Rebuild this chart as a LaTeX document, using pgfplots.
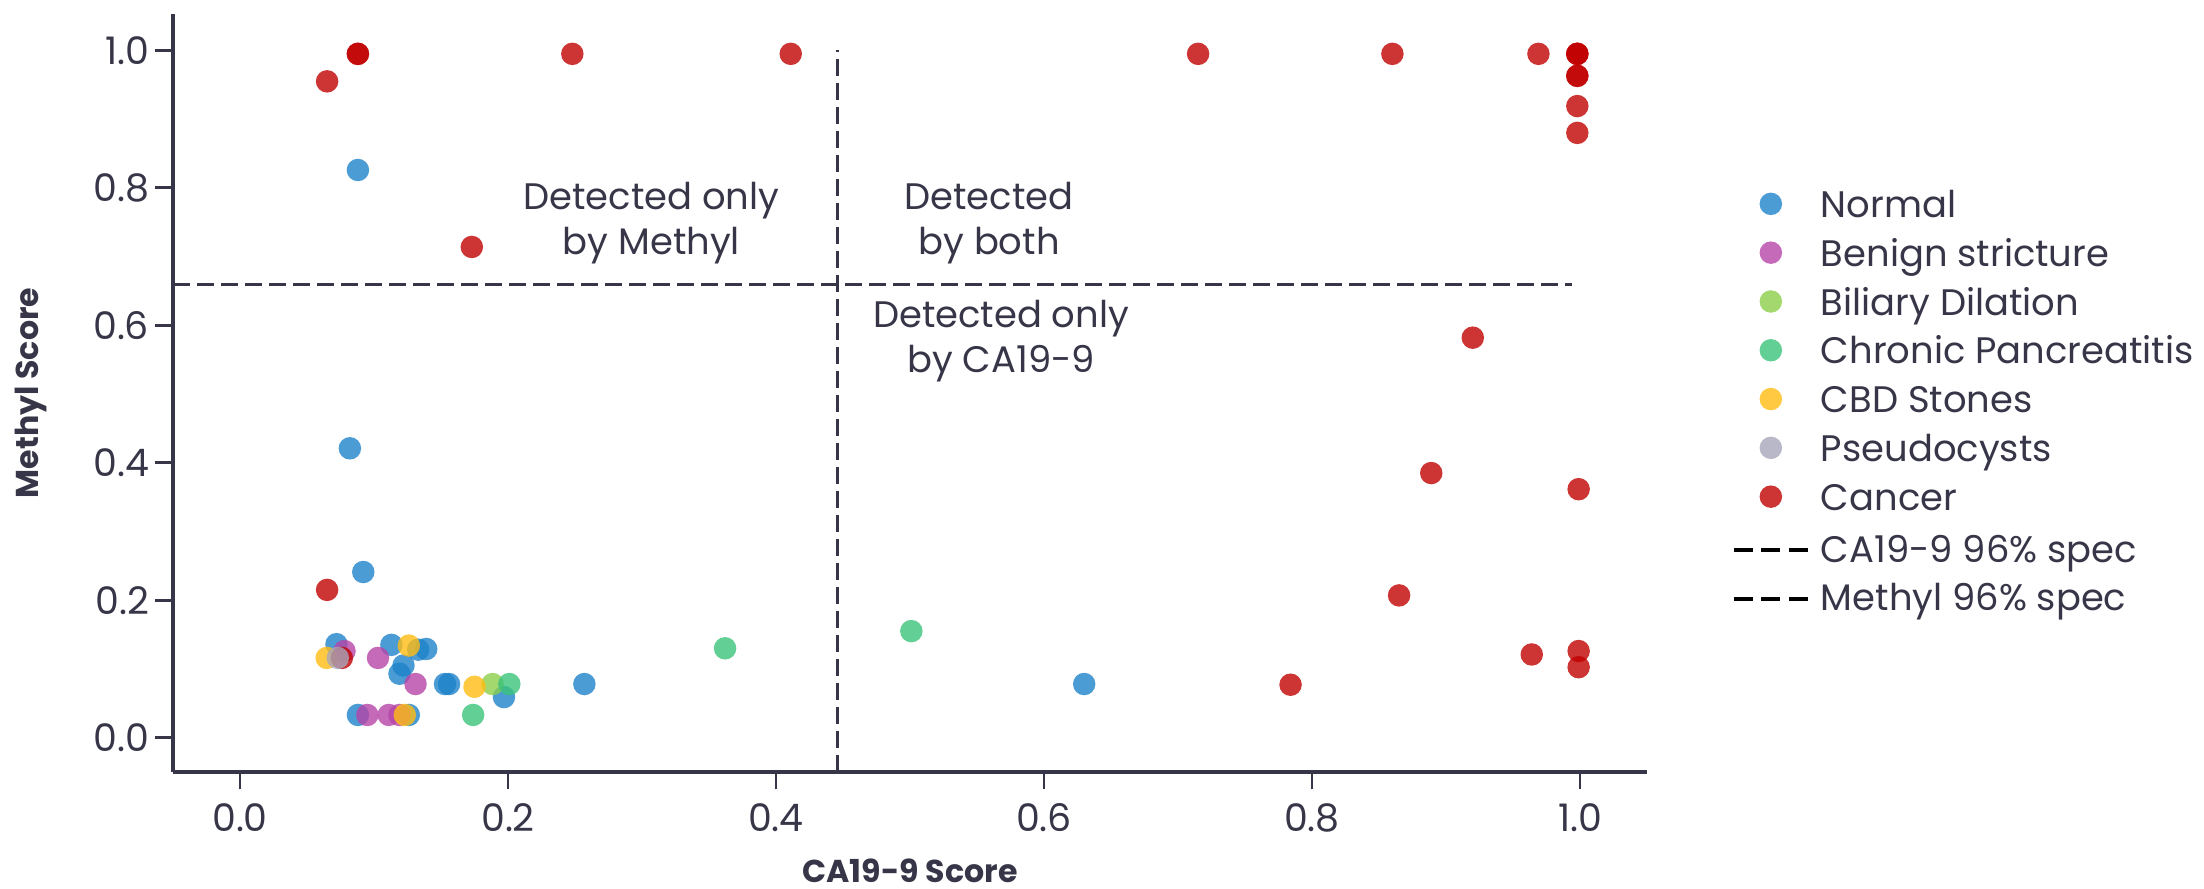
\documentclass[border=0pt]{standalone}
\usepackage{fontspec}
\setmainfont{Poppins}
\usepackage{pgfplots}
\pgfplotsset{compat=1.18}
\definecolor{txt}{HTML}{363648}
\definecolor{cN}{HTML}{1E82C9}
\definecolor{cB}{HTML}{B645A8}
\definecolor{cD}{HTML}{8CCE4A}
\definecolor{cC}{HTML}{3BC379}
\definecolor{cS}{HTML}{FFBC11}
\definecolor{cP}{HTML}{A8A6BA}
\definecolor{cK}{HTML}{C10101}
\pgfplotsset{
  sc/.style={only marks, mark=*, mark size=3.2pt,
    mark options={fill=#1, draw=#1, fill opacity=0.8, draw opacity=0, line width=0pt},
    legend image code/.code={\path[draw=none] (0cm,0cm) -- (0.74cm,0cm);
      \path[draw=none] plot[mark=*] coordinates {(0.37cm,0.37mm)};}},
  dl/.style={txt, line width=0.95pt, dash pattern=on 1.67mm off 0.73mm},
}
\begin{document}
\begin{tikzpicture}
\begin{axis}[
  at={(0,0)}, anchor=south west,
  scale only axis, width=147.4mm, height=75.8mm,
  xmin=-0.05, xmax=1.05, ymin=-0.05, ymax=1.053,
  axis x line*=bottom, axis y line*=left,
  axis line style={line width=1.1pt, txt},
  xtick={0,0.2,0.4,0.6,0.8,1.0}, ytick={0,0.2,0.4,0.6,0.8,1.0},
  tick align=outside, major tick length=1.75mm,
  tick style={line width=0.85pt, txt},
  /pgf/number format/fixed, /pgf/number format/fixed zerofill,
  /pgf/number format/precision=1, /pgf/number format/assume math mode=true,
  ticklabel style={font=\fontsize{10.8}{12}\selectfont, text=txt},
  xticklabel style={yshift=-0.2mm},
  yticklabel style={xshift=0.6mm},
  xlabel={CA19-9 Score}, ylabel={Methyl Score},
  label style={font=\bfseries\fontsize{9}{10}\selectfont, text=txt},
  xlabel style={at={(axis description cs:0.5,-0.1305)}, anchor=center},
  ylabel style={at={(axis description cs:-0.0965,0.5)}, anchor=center},
  legend style={at={(axis description cs:1.057,0.7693)}, anchor=north west, draw=none, fill=none,
    inner sep=0pt, font=\fontsize{10.5}{12}\selectfont, text=txt, row sep=1.28mm, column sep=1.1mm,
    nodes={inner sep=0pt, text height=2.8mm, text depth=0.8mm}},
  legend cell align=left,
  clip=false,
]
\addplot[sc=cN] coordinates {
(0.082,0.421) (0.088,0.826) (0.092,0.241) (0.072,0.136) (0.113,0.135)
(0.133,0.128) (0.139,0.129) (0.122,0.105) (0.119,0.093) (0.153,0.078)
(0.156,0.078) (0.197,0.059) (0.257,0.078) (0.088,0.033) (0.126,0.033)
(0.630,0.078)};
\addlegendentry{Normal}
\addplot[sc=cB] coordinates {
(0.078,0.126) (0.103,0.116) (0.131,0.078) (0.095,0.033) (0.111,0.033) (0.119,0.033)};
\addlegendentry{Benign stricture}
\addplot[sc=cD] coordinates {(0.1885,0.078)};
\addlegendentry{Biliary Dilation}
\addplot[sc=cC] coordinates {(0.201,0.078) (0.174,0.033) (0.362,0.130) (0.501,0.155)};
\addlegendentry{Chronic Pancreatitis}
\addplot[sc=cS] coordinates {(0.0647,0.116) (0.126,0.134) (0.175,0.074) (0.123,0.033)};
\addlegendentry{CBD Stones}
\addplot[sc=cK, forget plot] coordinates {(0.076,0.116)};
\addplot[sc=cP] coordinates {(0.073,0.116)};
\addlegendentry{Pseudocysts}
\addplot[sc=cK] coordinates {
(0.065,0.215) (0.065,0.955) (0.088,0.995) (0.088,0.995) (0.248,0.995)
(0.411,0.995) (0.173,0.714) (0.715,0.995) (0.860,0.995) (0.969,0.995)
(0.998,0.995) (0.998,0.995) (0.998,0.995) (0.998,0.963) (0.998,0.963)
(0.998,0.919) (0.998,0.880) (0.920,0.582) (0.889,0.385) (0.999,0.3615)
(0.865,0.207) (0.964,0.121) (0.999,0.126) (0.999,0.1025) (0.784,0.077)};
\addlegendentry{Cancer}
\addplot[dl, legend image code/.code={\draw[black, line width=1.2pt, dash pattern=on 1.9mm off 0.85mm] (0cm,0.08mm) -- (0.74cm,0.08mm);}] coordinates {(0.4458,-0.05) (0.4458,1.0)};
\addlegendentry[text height=3.18mm]{CA19-9 96\% spec}
\addplot[dl, legend image code/.code={\draw[black, line width=1.2pt, dash pattern=on 1.9mm off 0.85mm] (0cm,0.17mm) -- (0.74cm,0.17mm);}] coordinates {(-0.05,0.659) (0.994,0.659)};
\addlegendentry[text height=2.66mm]{Methyl 96\% spec}
\node[align=center, font=\fontsize{10.5}{12.8}\selectfont, text=txt] at (axis cs:0.307,0.749) {Detected only\\by Methyl};
\node[align=center, font=\fontsize{10.5}{12.8}\selectfont, text=txt] at (axis cs:0.559,0.749) {Detected\\by both};
\node[align=center, font=\fontsize{10.5}{12.8}\selectfont, text=txt] at (axis cs:0.568,0.577) {Detected only\\by CA19-9};
\end{axis}
\pgfresetboundingbox
\path (-17.3mm,-11.7mm) rectangle (203.1mm,77.2mm);
\end{tikzpicture}
\end{document}
